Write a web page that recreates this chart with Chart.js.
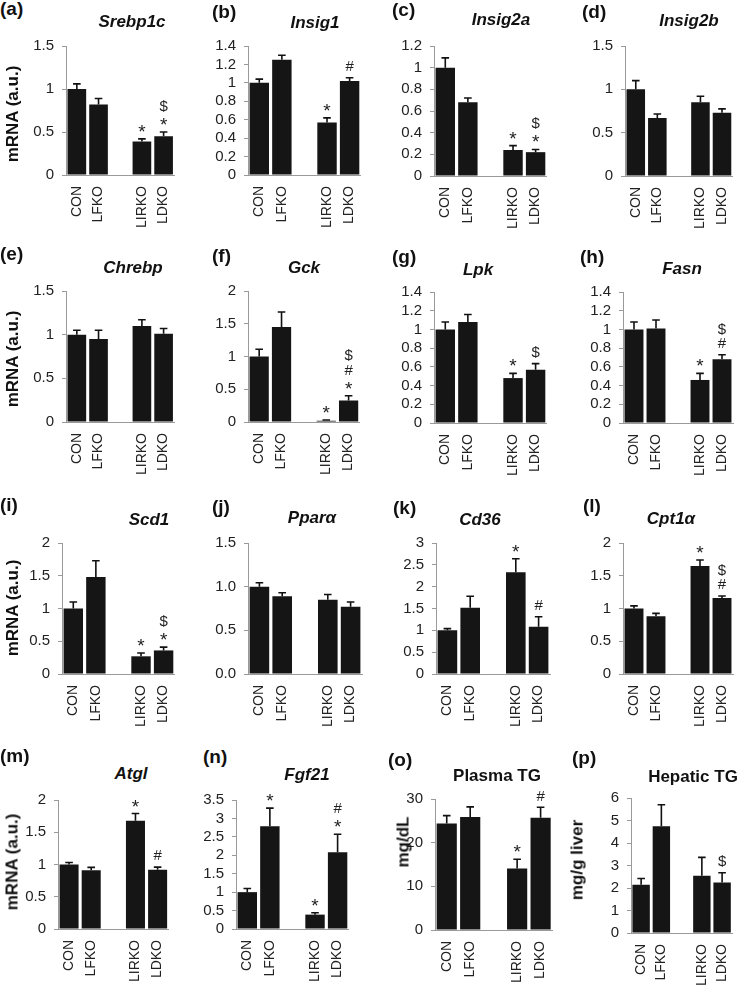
<!DOCTYPE html>
<html>
<head>
<meta charset="utf-8">
<script src="https://cdn.jsdelivr.net/npm/chart.js@4.4.1/dist/chart.umd.min.js"></script>
<style>
body { margin: 0; background: #fff; width: 750px; height: 986px; position: relative; overflow: hidden; font-family: "Liberation Sans", Arial, sans-serif; color: #111; }
canvas { position: absolute; }
.lbl { position: absolute; font-weight: bold; font-size: 19px; line-height: 19px; white-space: nowrap; }
.ttl { position: absolute; font-weight: bold; font-style: italic; font-size: 17px; line-height: 17px; white-space: nowrap; transform: translateX(-50%); }
.ttl.plain { font-style: normal; }
.yt { position: absolute; font-weight: bold; font-size: 17px; line-height: 17px; white-space: nowrap; transform: translate(-50%, -50%) rotate(-90deg); }
</style>
</head>
<body>
<script>
// groups (a gap slot is put between LFKO and LIRKO)
const groups = ['CON', 'LFKO', 'LIRKO', 'LDKO'];

// means, SEM and significance marks (read bottom -> top)
const srebp1cMean = [1.00, 0.82, 0.39, 0.45];
const srebp1cErr  = [0.06, 0.07, 0.03, 0.05];
const srebp1cSig  = ['', '', '*', '*$'];

const insig1Mean = [1.00, 1.25, 0.57, 1.02];
const insig1Err  = [0.04, 0.05, 0.05, 0.035];
const insig1Sig  = ['', '', '*', '#'];

const insig2aMean = [1.00, 0.68, 0.24, 0.22];
const insig2aErr  = [0.09, 0.04, 0.04, 0.025];
const insig2aSig  = ['', '', '*', '*$'];

const insig2bMean = [1.00, 0.67, 0.85, 0.73];
const insig2bErr  = [0.10, 0.045, 0.07, 0.045];
const insig2bSig  = ['', '', '', ''];

const chrebpMean = [1.00, 0.95, 1.10, 1.01];
const chrebpErr  = [0.05, 0.10, 0.07, 0.06];
const chrebpSig  = ['', '', '', ''];

const gckMean = [1.00, 1.45, 0.02, 0.33];
const gckErr  = [0.11, 0.23, 0.01, 0.07];
const gckSig  = ['', '', '*', '*#$'];

const lpkMean = [1.00, 1.08, 0.48, 0.57];
const lpkErr  = [0.08, 0.08, 0.05, 0.065];
const lpkSig  = ['', '', '*', '$'];

const fasnMean = [1.00, 1.01, 0.46, 0.68];
const fasnErr  = [0.08, 0.09, 0.07, 0.05];
const fasnSig  = ['', '', '*', '#$'];

const scd1Mean = [1.00, 1.48, 0.27, 0.36];
const scd1Err  = [0.10, 0.25, 0.05, 0.05];
const scd1Sig  = ['', '', '*', '*$'];

const pparaMean = [1.00, 0.89, 0.85, 0.77];
const pparaErr  = [0.045, 0.04, 0.06, 0.055];
const pparaSig  = ['', '', '', ''];

const cd36Mean = [1.00, 1.52, 2.33, 1.08];
const cd36Err  = [0.04, 0.26, 0.31, 0.23];
const cd36Sig  = ['', '', '*', '#'];

const cpt1aMean = [1.00, 0.88, 1.65, 1.16];
const cpt1aErr  = [0.04, 0.045, 0.09, 0.03];
const cpt1aSig  = ['', '', '*', '#$'];

const atglMean = [1.00, 0.91, 1.68, 0.92];
const atglErr  = [0.03, 0.045, 0.11, 0.04];
const atglSig  = ['', '', '*', '#'];

const fgf21Mean = [1.00, 2.79, 0.39, 2.08];
const fgf21Err  = [0.10, 0.49, 0.05, 0.49];
const fgf21Sig  = ['', '*', '*', '*#'];

const plasmaTgMean = [24.4, 25.9, 14.1, 25.7];
const plasmaTgErr  = [1.8, 2.3, 2.1, 2.4];
const plasmaTgSig  = ['', '', '*', '#'];

const hepaticTgMean = [2.14, 4.75, 2.54, 2.24];
const hepaticTgErr  = [0.28, 0.95, 0.82, 0.44];
const hepaticTgSig  = ['', '', '', '$'];

// panel setup: label, title, data, axis range, and where the plot sits on the page
const panels = [
    { id: '(a)', title: 'Srebp1c', mean: srebp1cMean, err: srebp1cErr, sig: srebp1cSig, max: 1.5, step: 0.5, box: [66, 186, 43, 175], lab: [0, 9], ttl: [132, 21], yt: ['mRNA (a.u.)', 12, 114] },
    { id: '(b)', title: 'Insig1', mean: insig1Mean, err: insig1Err, sig: insig1Sig, max: 1.4, step: 0.2, box: [248, 372, 43, 175], lab: [212, 12], ttl: [315, 22] },
    { id: '(c)', title: 'Insig2a', mean: insig2aMean, err: insig2aErr, sig: insig2aSig, max: 1.2, step: 0.2, box: [434, 558, 43, 176], lab: [392, 10], ttl: [501, 19] },
    { id: '(d)', title: 'Insig2b', mean: insig2bMean, err: insig2bErr, sig: insig2bSig, max: 1.5, step: 0.5, box: [625, 748, 43, 176], lab: [582, 12], ttl: [689, 20] },

    { id: '(e)', title: 'Chrebp', mean: chrebpMean, err: chrebpErr, sig: chrebpSig, max: 1.5, step: 0.5, box: [66, 186, 288, 422], lab: [0, 254], ttl: [133, 267], yt: ['mRNA (a.u.)', 12, 359] },
    { id: '(f)', title: 'Gck', mean: gckMean, err: gckErr, sig: gckSig, max: 2, step: 0.5, box: [248, 371, 288, 422], lab: [212, 256], ttl: [304, 267] },
    { id: '(g)', title: 'Lpk', mean: lpkMean, err: lpkErr, sig: lpkSig, max: 1.4, step: 0.2, box: [434, 558, 289, 423], lab: [392, 257], ttl: [478, 269] },
    { id: '(h)', title: 'Fasn', mean: fasnMean, err: fasnErr, sig: fasnSig, max: 1.4, step: 0.2, box: [623, 748, 289, 423], lab: [580, 257], ttl: [682, 268] },

    { id: '(i)', title: 'Scd1', mean: scd1Mean, err: scd1Err, sig: scd1Sig, max: 2, step: 0.5, box: [62, 186, 540, 674], lab: [0, 505], ttl: [149, 519], yt: ['mRNA (a.u.)', 12, 608] },
    { id: '(j)', title: 'Pparα', mean: pparaMean, err: pparaErr, sig: pparaSig, max: 1.5, step: 0.5, dec: 1, box: [248, 373, 540, 674], lab: [212, 507], ttl: [312, 517] },
    { id: '(k)', title: 'Cd36', mean: cd36Mean, err: cd36Err, sig: cd36Sig, max: 3, step: 0.5, box: [436, 561, 540, 674], lab: [393, 508], ttl: [480, 519] },
    { id: '(l)', title: 'Cpt1α', mean: cpt1aMean, err: cpt1aErr, sig: cpt1aSig, max: 2, step: 0.5, box: [623, 748, 540, 674], lab: [583, 506], ttl: [671, 518] },

    { id: '(m)', title: 'Atgl', mean: atglMean, err: atglErr, sig: atglSig, max: 2, step: 0.5, box: [58, 180, 797, 929], lab: [0, 756], ttl: [131, 773], yt: ['mRNA (a.u.)', 12, 862] },
    { id: '(n)', title: 'Fgf21', mean: fgf21Mean, err: fgf21Err, sig: fgf21Sig, max: 3.5, step: 0.5, box: [236, 360, 797, 929], lab: [203, 757], ttl: [307, 774] },
    { id: '(o)', title: 'Plasma TG', plain: true, mean: plasmaTgMean, err: plasmaTgErr, sig: plasmaTgSig, max: 30, step: 10, box: [435, 563, 796, 930], lab: [388, 760], ttl: [497, 775], yt: ['mg/dL', 403, 842] },
    { id: '(p)', title: 'Hepatic TG', plain: true, mean: hepaticTgMean, err: hepaticTgErr, sig: hepaticTgSig, max: 6, step: 1, box: [631, 749, 795, 933], lab: [572, 758], ttl: [693, 776], yt: ['mg/g liver', 577, 860] }
];

const FONT = '"Liberation Sans", Arial, sans-serif';

// Error bars (upward only) and significance marks
const errorBarPlugin = {
    id: 'errorBars',
    afterDatasetsDraw(chart) {
        const ds = chart.data.datasets[0];
        const meta = chart.getDatasetMeta(0);
        const yScale = chart.scales.y;
        const ctx = chart.ctx;
        ctx.save();
        meta.data.forEach((bar, i) => {
            const v = ds.data[i];
            if (v === null) return;
            const e = ds.errors[i];
            const yTop = yScale.getPixelForValue(v + e);
            ctx.strokeStyle = '#111';
            ctx.lineWidth = 1.6;
            ctx.beginPath();
            ctx.moveTo(bar.x, bar.y);
            ctx.lineTo(bar.x, yTop);
            ctx.moveTo(bar.x - 3.8, yTop);
            ctx.lineTo(bar.x + 3.8, yTop);
            ctx.stroke();

            const marks = ds.marks[i] || '';
            ctx.fillStyle = '#222';
            ctx.textAlign = 'center';
            ctx.textBaseline = 'alphabetic';
            [...marks].forEach((m, k) => {
                const centre = yTop - 12 - k * 14.5;
                const size = m === '*' ? 19 : 15;
                const lift = m === '*' ? 0.58 : 0.36;
                ctx.font = size + 'px ' + FONT;
                ctx.fillText(m, bar.x, centre + lift * size);
            });
        });
        ctx.restore();
    }
};

function addText(cls, text, x, y, extra) {
    const d = document.createElement('div');
    d.className = cls + (extra ? ' ' + extra : '');
    d.textContent = text;
    d.style.left = x + 'px';
    d.style.top = y + 'px';
    document.body.appendChild(d);
    return d;
}

panels.forEach(p => {
    const [left, right, top, bottom] = p.box;
    const cl = left - 46;
    const ct = top - 14;
    const cw = Math.min(right + 6, 750) - cl;
    const ch = bottom - ct + 58;

    const canvas = document.createElement('canvas');
    canvas.width = cw;
    canvas.height = ch;
    canvas.style.left = cl + 'px';
    canvas.style.top = ct + 'px';
    canvas.style.width = cw + 'px';
    canvas.style.height = ch + 'px';
    document.body.appendChild(canvas);

    const labels = [groups[0], groups[1], '', groups[2], groups[3]];
    const values = [p.mean[0], p.mean[1], null, p.mean[2], p.mean[3]];
    const errors = [p.err[0], p.err[1], null, p.err[2], p.err[3]];
    const marks = [p.sig[0], p.sig[1], '', p.sig[2], p.sig[3]];

    new Chart(canvas, {
        type: 'bar',
        data: {
            labels: labels,
            datasets: [{
                data: values,
                errors: errors,
                marks: marks,
                backgroundColor: '#151515',
                borderWidth: 0,
                categoryPercentage: 1,
                barPercentage: 0.86
            }]
        },
        options: {
            responsive: false,
            animation: false,
            layout: { padding: { left: 0, top: top - ct, right: cl + cw - right, bottom: 0 } },
            plugins: { legend: { display: false }, tooltip: { enabled: false } },
            scales: {
                x: {
                    afterFit: s => { s.height = ch - (bottom - ct); },
                    grid: { display: false, drawTicks: false },
                    border: { display: true, color: '#9a9a9a', width: 1 },
                    ticks: {
                        minRotation: 90, maxRotation: 90, autoSkip: false,
                        padding: 11, color: '#222',
                        font: { family: FONT, size: 14 }
                    }
                },
                y: {
                    min: 0,
                    max: p.max,
                    afterFit: s => { s.width = left - cl; },
                    grid: { drawOnChartArea: false, drawTicks: true, tickLength: 4, color: '#9a9a9a' },
                    border: { display: true, color: '#9a9a9a', width: 1 },
                    ticks: {
                        stepSize: p.step,
                        autoSkip: false,
                        padding: 8,
                        color: '#222',
                        font: { family: FONT, size: 15 },
                        callback: v => p.dec ? v.toFixed(p.dec) : String(parseFloat(v.toFixed(2)))
                    }
                }
            }
        },
        plugins: [errorBarPlugin]
    });

    addText('lbl', p.id, p.lab[0], p.lab[1] - 10);
    addText('ttl', p.title, p.ttl[0], p.ttl[1] - 8.5, p.plain ? 'plain' : '');
    if (p.yt) addText('yt', p.yt[0], p.yt[1], p.yt[2]);
});
</script>
</body>
</html>
